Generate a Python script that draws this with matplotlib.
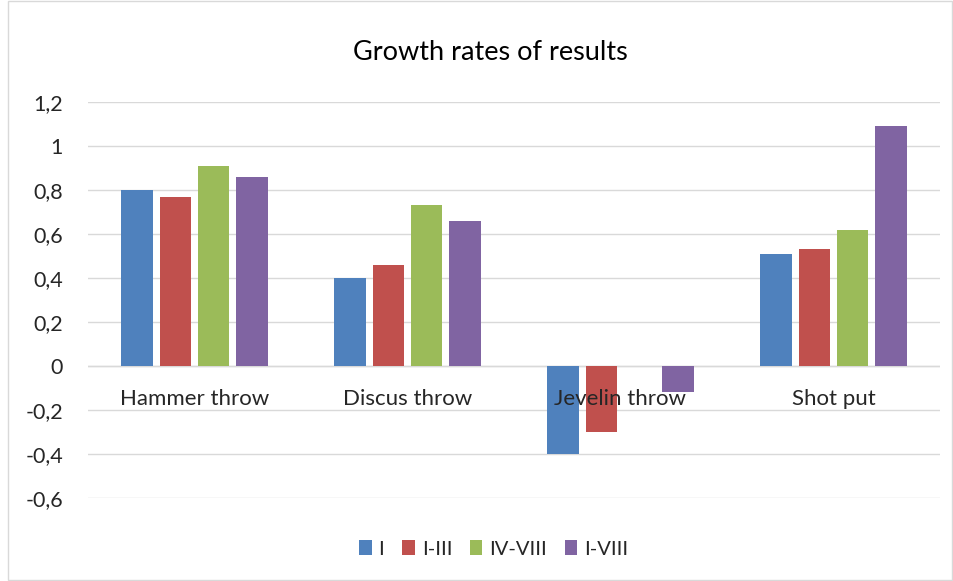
import numpy as np
import matplotlib
matplotlib.use('Agg')
import matplotlib.pyplot as plt
from matplotlib.patches import Rectangle

categories = ['Hammer throw', 'Discus throw', 'Jevelin throw', 'Shot put']
series_names = ['I', 'I-III', 'IV-VIII', 'I-VIII']
vals_I = [0.80, 0.40, -0.40, 0.51]
vals_I_III = [0.77, 0.46, -0.30, 0.53]
vals_IV_VIII = [0.91, 0.73, 0.0, 0.62]
vals_I_VIII = [0.86, 0.66, -0.12, 1.09]
yticks = [-0.6, -0.4, -0.2, 0, 0.2, 0.4, 0.6, 0.8, 1, 1.2]
ytick_labels = ['-0,6', '-0,4', '-0,2', '0', '0,2', '0,4', '0,6', '0,8', '1', '1,2']
colors = ['#4F81BD', '#C0504D', '#9BBB59', '#8064A2']

plt.rcParams['font.family'] = ['Lato', 'DejaVu Sans']

fig = plt.figure(figsize=(9.54, 5.81), dpi=100)
ax = fig.add_axes([88 / 954, 1 - 498 / 581, 852 / 954, 396 / 581])

x = np.arange(len(categories))
step = 0.18
width = 0.146
all_vals = [vals_I, vals_I_III, vals_IV_VIII, vals_I_VIII]
for i, (name, vals) in enumerate(zip(series_names, all_vals)):
    ax.bar(x + (i - 1.5) * step, vals, width, color=colors[i], label=name, zorder=3)

ax.set_xlim(-0.5, len(categories) - 0.5)
ax.set_ylim(-0.6, 1.2)
ax.set_yticks(yticks)
ax.set_yticklabels(ytick_labels, fontsize=15.5, color='#262626')
ax.grid(axis='y', color='#D9D9D9', linewidth=1, zorder=0)
ax.axhline(0, color='#D9D9D9', linewidth=1, zorder=2)
ax.tick_params(axis='y', length=0, pad=18)
ax.set_xticks([])
for s in ax.spines.values():
    s.set_visible(False)

for xi, cat in zip(x, categories):
    ax.text(xi, -0.15, cat, ha='center', va='center', fontsize=16, color='#262626', zorder=4)

fig.text(490 / 954, 1 - 52 / 581, 'Growth rates of results', ha='center', va='center',
         fontsize=19.5, color='#000000')

fig.legend(loc='center', bbox_to_anchor=(494 / 954, 1 - 549 / 581), ncol=4, frameon=False,
           fontsize=14.5, handlelength=0.6, handleheight=0.75, handletextpad=0.35,
           columnspacing=0.9, labelcolor='#262626')

fig.patches.append(Rectangle((8 / 954, 0.002), 944 / 954, 0.996, transform=fig.transFigure,
                             fill=False, edgecolor='#D9D9D9', linewidth=1))

fig.savefig('out.png', dpi=100)
